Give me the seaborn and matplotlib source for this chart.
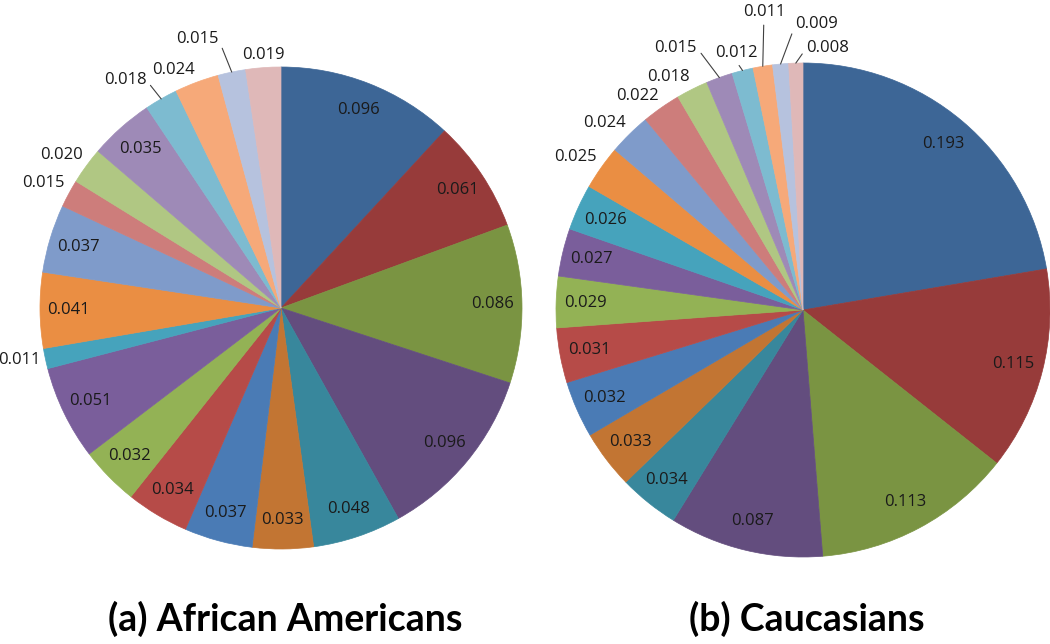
import numpy as np
import seaborn as sns
import matplotlib.pyplot as plt

sns.set_theme(style='white')
plt.rcParams['font.family'] = ['Open Sans', 'DejaVu Sans']

titles = ['(a) African Americans', '(b) Caucasians']

values_aa = [0.096, 0.061, 0.086, 0.096, 0.048, 0.033, 0.037, 0.034, 0.032, 0.051,
             0.011, 0.041, 0.037, 0.015, 0.020, 0.035, 0.018, 0.024, 0.015, 0.019]
values_ca = [0.193, 0.115, 0.113, 0.087, 0.034, 0.033, 0.032, 0.031, 0.029, 0.027,
             0.026, 0.025, 0.024, 0.022, 0.018, 0.015, 0.012, 0.011, 0.009, 0.008]

slice_colors = ['#3D6696', '#973B3A', '#7A9442', '#634D7E', '#38879C', '#C27533',
                '#4A7BB5', '#B64B48', '#93B255', '#7A5E9B', '#46A3BC', '#EA8E43',
                '#7F9BCA', '#CD7D7B', '#B0C783', '#9E8AB7', '#7DBBD0', '#F6A979',
                '#B6C2DE', '#DFB8B8']

# labels moved away from the pie with a leader line: index -> (radius, angle clockwise from top)
leaders_aa = {16: (1.146, 325.6), 18: (1.17, 342.7)}
leaders_ca = {15: (1.18, 334.1), 16: (1.075, 345.4), 17: (1.215, 352.5),
              18: (1.16, 2.8), 19: (1.065, 5.4)}

W, H = 1050, 644
LIM = 1.3
fig = plt.figure(figsize=(W / 100, H / 100), dpi=100)


def draw_pie(cx, cy, R, values, leaders, title):
    size = 2 * LIM * R
    ax = fig.add_axes([(cx - size / 2) / W, (H - cy - size / 2) / H, size / W, size / H])
    wedges, _ = ax.pie(values, colors=slice_colors, startangle=90, counterclock=False,
                       radius=1, wedgeprops=dict(linewidth=0.5))
    for w in wedges:
        w.set_edgecolor(w.get_facecolor())
    ax.set_xlim(-LIM, LIM)
    ax.set_ylim(-LIM, LIM)
    ax.axis('off')

    total = sum(values)
    cum = np.cumsum([0] + values[:-1])
    for i, v in enumerate(values):
        th = np.deg2rad((cum[i] + v / 2) / total * 360)
        s, c = np.sin(th), np.cos(th)
        label = f'{v:.3f}'
        if i in leaders:
            r, ang = leaders[i]
            a = np.deg2rad(ang)
            tx, ty = r * np.sin(a), r * np.cos(a)
            dx = tx - s
            if abs(dx) < 0.06:
                rel = (0.5, 0.0)
            elif dx > 0:
                rel = (0.0, 0.5)
            else:
                rel = (1.0, 0.5)
            ax.annotate(label, xy=(s, c), xytext=(tx, ty), ha='center', va='center',
                        fontsize=12, color='#1a1a1a',
                        arrowprops=dict(arrowstyle='-', color='#404040', lw=0.8,
                                        shrinkA=1, shrinkB=0, relpos=rel))
        elif v >= 0.026:
            ax.text(0.88 * s, 0.88 * c, label, ha='center', va='center',
                    fontsize=12, color='#1a1a1a')
        else:
            ha = 'right' if s < -0.3 else ('left' if s > 0.3 else 'center')
            va = 'bottom' if c > 0.3 else ('top' if c < -0.3 else 'center')
            ax.text(1.02 * s, 1.02 * c, label, ha=ha, va=va,
                    fontsize=12, color='#1a1a1a')

    fig.text(cx / W + 0.004, 1 - 619 / H, title, ha='center', va='center',
             fontsize=27, fontweight='bold', color='black',
             family=['DejaVu Sans Condensed', 'Lato', 'DejaVu Sans'])


draw_pie(281, 308, 241, values_aa, leaders_aa, titles[0])
draw_pie(803, 310, 247, values_ca, leaders_ca, titles[1])

fig.savefig('out.png', dpi=100, facecolor='white')
